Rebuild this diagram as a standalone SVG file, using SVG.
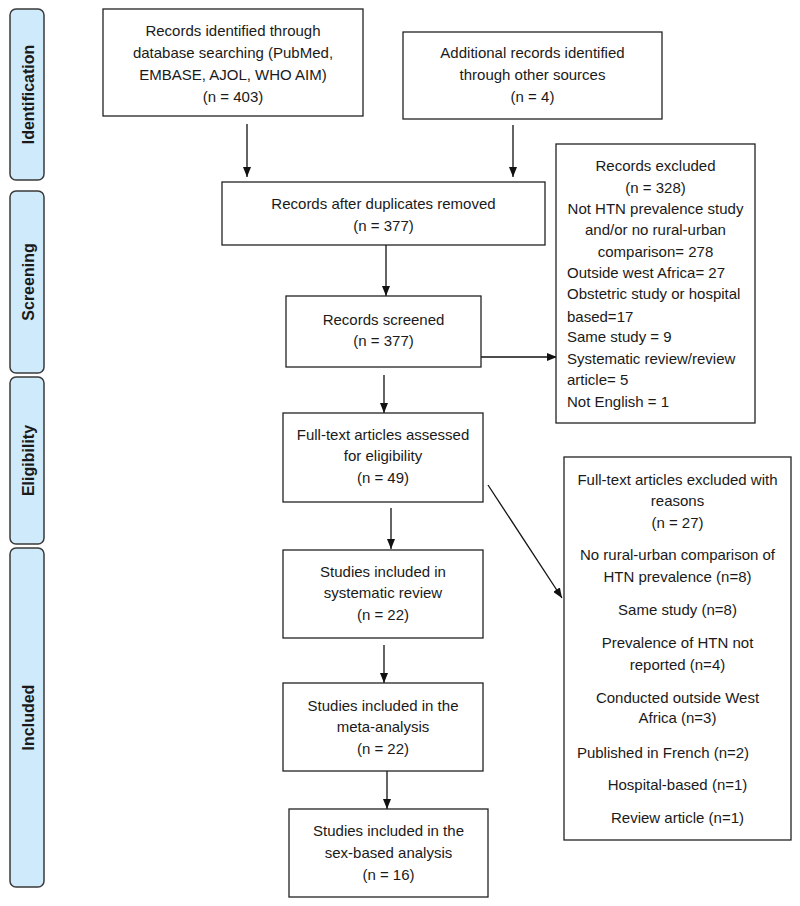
<svg xmlns="http://www.w3.org/2000/svg" width="800" height="906" viewBox="0 0 800 906">
<style>
.bar{fill:#cfeafb;stroke:#3a3a3a;stroke-width:1.5}
.box{fill:#fff;stroke:#222;stroke-width:1.3}
.lbl{font-family:"Liberation Sans",Arial,sans-serif;font-size:16px;font-weight:bold;fill:#1a1a1a;text-anchor:middle;dominant-baseline:central}
.t{font-family:"Liberation Sans",Arial,sans-serif;font-size:15px;fill:#1a1a1a;text-anchor:middle}
.tl{font-family:"Liberation Sans",Arial,sans-serif;font-size:15px;fill:#1a1a1a;text-anchor:start}
.c{stroke:#111;stroke-width:1.3;fill:none;marker-end:url(#ah)}
</style>
<defs>
<marker id="ah" markerUnits="userSpaceOnUse" markerWidth="10" markerHeight="8" refX="10" refY="4" orient="auto">
<path d="M0,0 L10,4 L0,8 z" fill="#111"/>
</marker>
</defs>
<rect width="800" height="906" fill="#fff"/>
<g id="phase-identification"><rect class="bar" x="10" y="9" width="34" height="171" rx="6"/><text class="lbl" transform="translate(28,94.5) rotate(-90)">Identification</text></g>
<g id="phase-screening"><rect class="bar" x="10" y="191" width="34" height="182" rx="6"/><text class="lbl" transform="translate(28,282) rotate(-90)">Screening</text></g>
<g id="phase-eligibility"><rect class="bar" x="10" y="377" width="34" height="167" rx="6"/><text class="lbl" transform="translate(28,460.5) rotate(-90)">Eligibility</text></g>
<g id="phase-included"><rect class="bar" x="10" y="548" width="34" height="339" rx="6"/><text class="lbl" transform="translate(28,717.5) rotate(-90)">Included</text></g>

<g id="connectors">
<line class="c" x1="247" y1="124" x2="247" y2="177"/>
<line class="c" x1="513" y1="125" x2="513" y2="177"/>
<line class="c" x1="386" y1="245" x2="386" y2="296"/>
<line class="c" x1="481" y1="357" x2="557" y2="357"/>
<line class="c" x1="384" y1="375" x2="384" y2="413"/>
<line class="c" x1="488" y1="485" x2="562" y2="598"/>
<line class="c" x1="391" y1="508" x2="391" y2="549"/>
<line class="c" x1="384" y1="645" x2="384" y2="683"/>
<line class="c" x1="387" y1="771" x2="387" y2="809"/>
</g>

<g id="n-database"><rect class="box" x="103" y="9" width="260" height="107"/>
<text class="t" x="233" y="36">Records identified through</text>
<text class="t" x="233" y="58">database searching (PubMed,</text>
<text class="t" x="233" y="80">EMBASE, AJOL, WHO AIM)</text>
<text class="t" x="233" y="102">(n = 403)</text></g>

<g id="n-other"><rect class="box" x="403" y="32" width="259" height="87"/>
<text class="t" x="532.5" y="58">Additional records identified</text>
<text class="t" x="532.5" y="80">through other sources</text>
<text class="t" x="532.5" y="102">(n = 4)</text></g>

<g id="n-dedup"><rect class="box" x="222" y="182" width="323" height="63"/>
<text class="t" x="383.5" y="209">Records after duplicates removed</text>
<text class="t" x="383.5" y="231">(n = 377)</text></g>

<g id="n-screened"><rect class="box" x="286" y="296" width="195" height="71"/>
<text class="t" x="383.5" y="325">Records screened</text>
<text class="t" x="383.5" y="346">(n = 377)</text></g>

<g id="n-excluded"><rect class="box" x="556" y="144" width="199" height="279"/>
<text class="t" x="655.5" y="171">Records excluded</text>
<text class="t" x="655.5" y="193">(n = 328)</text>
<text class="t" x="655.5" y="214">Not HTN prevalence study</text>
<text class="t" x="655.5" y="235">and/or no rural-urban</text>
<text class="t" x="655.5" y="257">comparison= 278</text>
<text class="tl" x="567" y="278">Outside west Africa= 27</text>
<text class="tl" x="567" y="299">Obstetric study or hospital</text>
<text class="tl" x="567" y="322">based=17</text>
<text class="tl" x="567" y="342">Same study = 9</text>
<text class="tl" x="567" y="364">Systematic review/review</text>
<text class="tl" x="567" y="385">article= 5</text>
<text class="tl" x="567" y="407">Not English = 1</text></g>

<g id="n-fulltext"><rect class="box" x="283" y="413" width="200" height="89"/>
<text class="t" x="383" y="440">Full-text articles assessed</text>
<text class="t" x="383" y="461">for eligibility</text>
<text class="t" x="383" y="483">(n = 49)</text></g>

<g id="n-ftexcluded"><rect class="box" x="564" y="457" width="227" height="383"/>
<text class="t" x="677.5" y="485">Full-text articles excluded with</text>
<text class="t" x="677.5" y="506">reasons</text>
<text class="t" x="677.5" y="528">(n = 27)</text>
<text class="t" x="677.5" y="560">No rural-urban comparison of</text>
<text class="t" x="677.5" y="582">HTN prevalence (n=8)</text>
<text class="t" x="677.5" y="615">Same study (n=8)</text>
<text class="t" x="677.5" y="648">Prevalence of HTN not</text>
<text class="t" x="677.5" y="670">reported (n=4)</text>
<text class="t" x="677.5" y="703">Conducted outside West</text>
<text class="t" x="677.5" y="723">Africa (n=3)</text>
<text class="t" x="663" y="758">Published in French (n=2)</text>
<text class="t" x="677.5" y="790">Hospital-based (n=1)</text>
<text class="t" x="677.5" y="823">Review article (n=1)</text></g>

<g id="n-systematic"><rect class="box" x="283" y="550" width="200" height="88"/>
<text class="t" x="383" y="577">Studies included in</text>
<text class="t" x="383" y="598">systematic review</text>
<text class="t" x="383" y="620">(n = 22)</text></g>

<g id="n-meta"><rect class="box" x="283" y="683" width="200" height="88"/>
<text class="t" x="383" y="711">Studies included in the</text>
<text class="t" x="383" y="732">meta-analysis</text>
<text class="t" x="383" y="754">(n = 22)</text></g>

<g id="n-sex"><rect class="box" x="289" y="809" width="199" height="88"/>
<text class="t" x="388.5" y="836">Studies included in the</text>
<text class="t" x="388.5" y="858">sex-based analysis</text>
<text class="t" x="388.5" y="880">(n = 16)</text></g>
</svg>
